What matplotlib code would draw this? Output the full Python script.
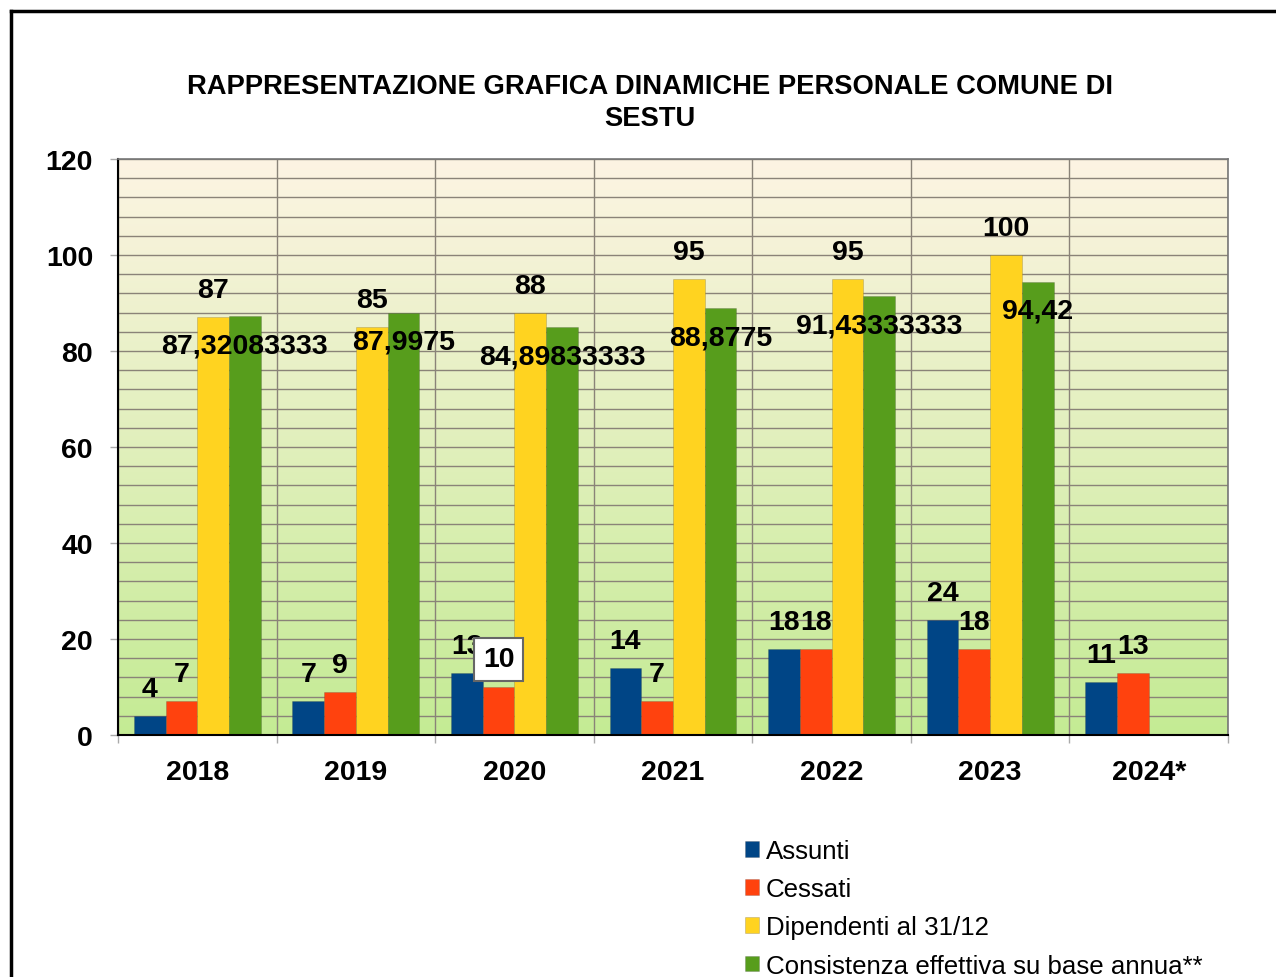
import matplotlib
matplotlib.use("Agg")
import matplotlib.pyplot as plt
import numpy as np
from matplotlib.lines import Line2D
from matplotlib.ticker import FixedLocator, MultipleLocator

YEARS = ["2018", "2019", "2020", "2021", "2022", "2023", "2024*"]
ASSUNTI = [4, 7, 13, 14, 18, 24, 11]
CESSATI = [7, 9, 10, 7, 18, 18, 13]
DIPENDENTI = [87, 85, 88, 95, 95, 100, None]
CONSISTENZA = [87.32083333, 87.9975, 84.89833333, 88.8775, 91.43333333, 94.42, None]

SERIES = [
    ("Assunti", ASSUNTI, "#004586"),
    ("Cessati", CESSATI, "#ff420e"),
    ("Dipendenti al 31/12", DIPENDENTI, "#ffd320"),
    ("Consistenza effettiva su base annua**", CONSISTENZA, "#579d1c"),
]

W, H = 1276, 978
FONT = "Liberation Sans"
GRID = "#8a8378"
TICK = "#aaaaaa"

plt.rcParams["font.family"] = [FONT, "DejaVu Sans"]

fig = plt.figure(figsize=(W / 100, H / 100), dpi=100)
fig.patch.set_facecolor("white")
ax = fig.add_axes([118 / W, 1 - 736 / H, (1228 - 118) / W, (736 - 160) / H])

# background gradient: cream at the top, light green at the bottom
top = np.array([253, 244, 227]) / 255
bot = np.array([196, 235, 148]) / 255
t = np.linspace(0, 1, 256)[:, None]
grad = (bot + (top - bot) * t)[:, None, :]
ax.imshow(grad, extent=[-0.5, 6.5, 0, 120], aspect="auto", origin="lower", zorder=0)

x = np.arange(len(YEARS))
bw = 0.2
offsets = [-0.3, -0.1, 0.1, 0.3]
for (name, vals, col), off in zip(SERIES, offsets):
    xs = [xi + off for xi, v in zip(x, vals) if v is not None]
    hs = [v for v in vals if v is not None]
    ax.bar(xs, hs, width=bw, color=col, edgecolor="#33333355", lw=0.4, label=name, zorder=2)

# value labels
lab = dict(fontsize=20.5, fontweight="bold", ha="center", va="center", zorder=5,
           textcoords="offset points")
for (name, vals, col), off in zip(SERIES, offsets):
    for xi, v in zip(x, vals):
        if v is None:
            continue
        txt = str(v).replace(".", ",")
        if name.startswith("Consistenza"):
            ax.annotate(txt, (xi + off, v), xytext=(0, -21), **lab)
        elif name == "Cessati" and YEARS[xi] == "2020":
            ax.annotate(txt, (xi + off, v), xytext=(0, 20), **lab,
                        bbox=dict(boxstyle="square,pad=0.3", fc="white", ec="#666666", lw=1.5))
        else:
            ax.annotate(txt, (xi + off, v), xytext=(0, 19.5), **lab)

ax.set_xlim(-0.5, 6.5)
ax.set_ylim(0, 120)
ax.set_axisbelow(True)

ax.xaxis.set_major_locator(FixedLocator(np.arange(-0.5, 7, 1)))
ax.xaxis.set_minor_locator(FixedLocator(x))
ax.set_xticklabels([], minor=False)
ax.set_xticklabels(YEARS, minor=True, fontsize=20.5, fontweight="bold")
ax.tick_params(axis="x", which="major", direction="out", length=6, color=TICK, width=1)
ax.tick_params(axis="x", which="minor", length=0, pad=17)

ax.yaxis.set_major_locator(MultipleLocator(20))
ax.yaxis.set_minor_locator(MultipleLocator(4))
ax.tick_params(axis="y", which="major", direction="out", length=6, color=TICK, width=1,
               labelsize=20.5, pad=12)
ax.tick_params(axis="y", which="minor", length=0)
for lbl in ax.get_yticklabels():
    lbl.set_fontweight("bold")

ax.grid(True, axis="y", which="both", color=GRID, lw=1.0)
ax.grid(True, axis="x", which="major", color=GRID, lw=1.0)

for side in ("top", "right"):
    ax.spines[side].set_color("#777777")
    ax.spines[side].set_linewidth(1.2)
for side in ("left", "bottom"):
    ax.spines[side].set_color("black")
    ax.spines[side].set_linewidth(1.5)

fig.text(650 / W, 1 - 103 / H,
         "RAPPRESENTAZIONE GRAFICA DINAMICHE PERSONALE COMUNE DI\nSESTU",
         ha="center", va="center", fontsize=19.7, fontweight="bold",
         multialignment="center", linespacing=1.3)

fig.legend(loc="upper left", bbox_to_anchor=(745 / W, 1 - 840 / H), frameon=False,
           fontsize=18.6, handlelength=0.55, handleheight=0.55, handletextpad=0.25,
           labelspacing=0.55, borderpad=0, borderaxespad=0)

# outer frame (cut off on the right and bottom)
fig.add_artist(Line2D([11 / W, 11 / W], [0, 1 - 12 / H], transform=fig.transFigure,
                      color="black", lw=2.5))
fig.add_artist(Line2D([11 / W, 1], [1 - 12 / H, 1 - 12 / H], transform=fig.transFigure,
                      color="black", lw=2.5))

fig.savefig("out.png", dpi=100, facecolor="white")
plt.close(fig)
